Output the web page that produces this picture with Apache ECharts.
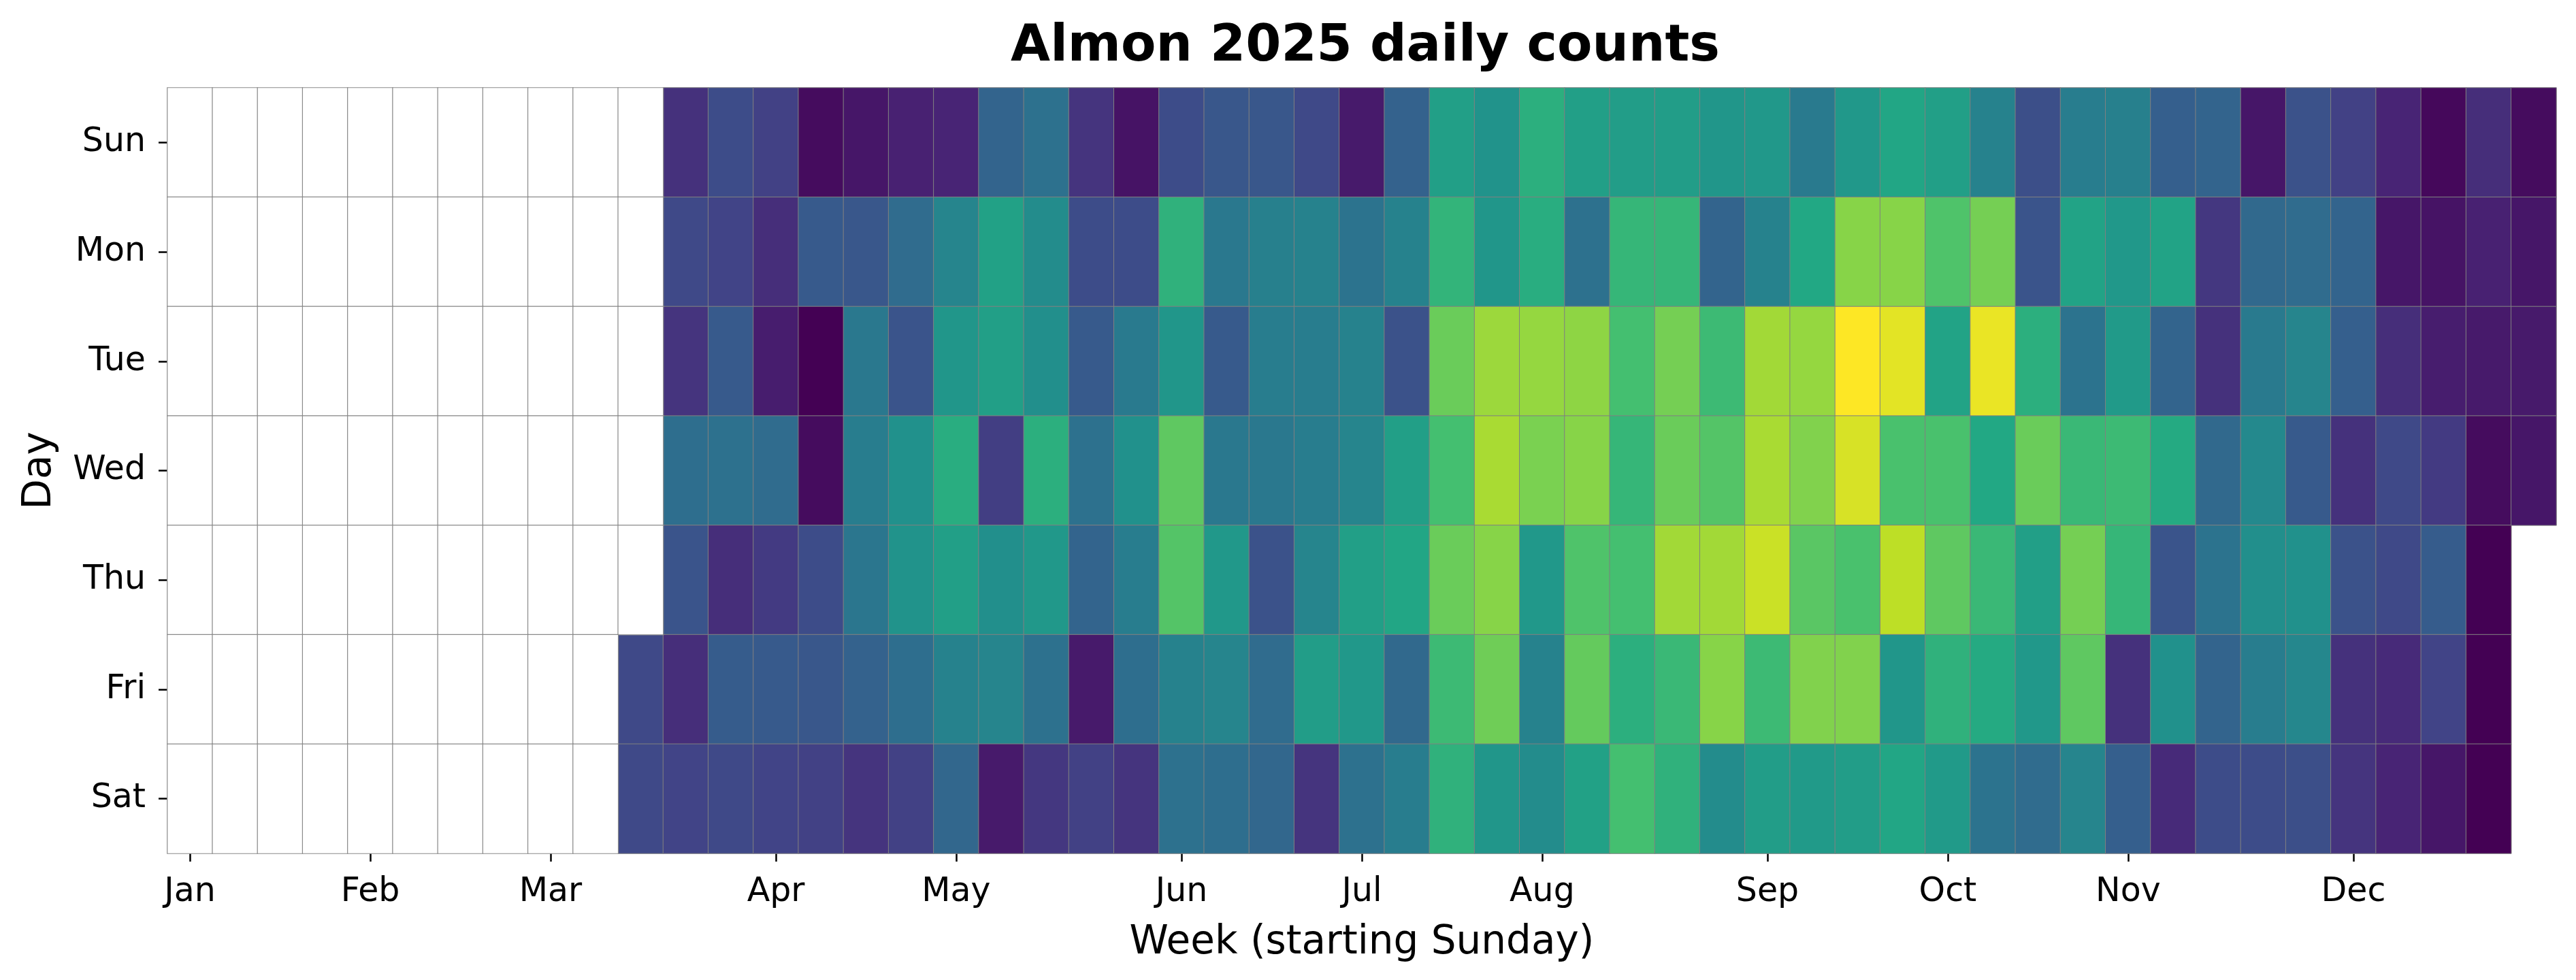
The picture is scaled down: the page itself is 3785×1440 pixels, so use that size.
<!DOCTYPE html>
<html lang="en">
<head>
<meta charset="UTF-8">
<title>Almon 2025 daily counts</title>
<script src="https://cdn.jsdelivr.net/npm/echarts@6/dist/echarts.min.js"></script>
<style>
  html, body { margin: 0; padding: 0; background: #fff; }
  #chart { width: 3785px; height: 1440px; }
</style>
</head>
<body>
<div id="chart"></div>
<script>
// rows of the heatmap, top to bottom
var days = ['Sun', 'Mon', 'Tue', 'Wed', 'Thu', 'Fri', 'Sat'];

// month labels and the week column holding the 1st of each month
var monthLabels = ['Jan', 'Feb', 'Mar', 'Apr', 'May', 'Jun', 'Jul', 'Aug', 'Sep', 'Oct', 'Nov', 'Dec'];
var monthWeeks = [0, 4, 8, 13, 17, 22, 26, 30, 35, 39, 43, 48];

// daily counts per weekday, one entry per week column (null = no data yet)
var sunCounts = [null, null, null, null, null, null, null, null, null, null, null,
    14, 23, 19, 3, 6, 9, 10, 32, 37, 15, 5, 23, 27, 27, 22, 7, 31, 56, 51, 63, 56, 55, 55, 52, 53,
    41, 53, 59, 56, 44, 24, 42, 43, 30, 32, 6, 25, 19, 10, 2, 13, 3];
var monCounts = [null, null, null, null, null, null, null, null, null, null, null,
    22, 20, 13, 28, 27, 35, 45, 57, 48, 23, 23, 64, 40, 43, 44, 38, 44, 65, 52, 62, 37, 66, 66, 32, 44,
    60, 82, 82, 72, 79, 26, 58, 53, 58, 16, 34, 35, 32, 6, 5, 9, 6];
var tueCounts = [null, null, null, null, null, null, null, null, null, null, null,
    15, 28, 8, 0, 40, 26, 52, 56, 49, 28, 41, 52, 28, 42, 42, 44, 25, 77, 85, 84, 83, 70, 79, 68, 86,
    84, 100, 96, 58, 97, 63, 38, 54, 32, 14, 41, 45, 30, 13, 8, 7, 7];
var wedCounts = [null, null, null, null, null, null, null, null, null, null, null,
    36, 37, 35, 3, 42, 50, 62, 18, 63, 37, 50, 75, 40, 40, 42, 45, 56, 70, 87, 80, 82, 66, 77, 73, 87,
    81, 94, 71, 71, 60, 77, 67, 68, 61, 34, 47, 28, 14, 22, 17, 3, 6];
var thuCounts = [null, null, null, null, null, null, null, null, null, null, null,
    26, 13, 17, 23, 39, 51, 56, 49, 53, 32, 42, 73, 53, 25, 45, 56, 59, 77, 82, 53, 72, 70, 86, 86, 92,
    74, 71, 90, 75, 67, 56, 79, 66, 26, 38, 49, 50, 25, 22, 29, 0];
var friCounts = [null, null, null, null, null, null, null, null, null, null,
    22, 13, 29, 28, 27, 31, 36, 44, 45, 37, 7, 36, 44, 45, 35, 55, 53, 34, 68, 78, 44, 76, 63, 67, 82,
    68, 81, 81, 52, 64, 61, 53, 75, 14, 50, 32, 42, 46, 14, 12, 20, 0];
var satCounts = [null, null, null, null, null, null, null, null, null, null,
    22, 20, 22, 20, 19, 15, 19, 33, 7, 16, 19, 15, 37, 36, 33, 15, 37, 42, 64, 52, 48, 57, 70, 64, 48,
    55, 54, 55, 59, 54, 38, 35, 45, 30, 12, 23, 23, 24, 15, 10, 6, 0];

var viridis = ['#440154', '#482475', '#414487', '#355f8d', '#2a788e', '#21918c',
    '#22a884', '#44bf70', '#7ad151', '#bddf26', '#fde725'];

var weeks = [];
for (var i = 0; i < 53; i++) weeks.push(String(i));

var rows = [sunCounts, monCounts, tueCounts, wedCounts, thuCounts, friCounts, satCounts];
var cells = [];
var blanks = [];
rows.forEach(function (row, d) {
    row.forEach(function (v, w) {
        if (v === null) blanks.push([w, d, 0]);
        else cells.push([w, d, v]);
    });
});

function isMonthWeek(index) {
    return monthWeeks.indexOf(index) >= 0;
}

var myChart = echarts.init(document.getElementById('chart'));
var font = 'DejaVu Sans';

var option = {
    backgroundColor: '#fff',
    animation: false,
    title: {
        text: 'Almon 2025 daily counts',
        left: 2001,
        textAlign: 'center',
        top: 27,
        textStyle: { fontFamily: font, fontSize: 75, fontWeight: 'bold', color: '#000' }
    },
    grid: { left: 246, right: 29, top: 129, bottom: 186 },
    xAxis: {
        type: 'category',
        data: weeks,
        name: 'Week (starting Sunday)',
        nameLocation: 'middle',
        nameGap: 103,
        nameTextStyle: { fontFamily: font, fontSize: 58, color: '#000' },
        axisLine: { show: false },
        splitLine: { show: false },
        axisTick: {
            show: true,
            alignWithLabel: true,
            interval: isMonthWeek,
            length: 12,
            lineStyle: { color: '#000', width: 2.5 }
        },
        axisLabel: {
            interval: isMonthWeek,
            formatter: function (v, index) {
                return monthLabels[monthWeeks.indexOf(index)];
            },
            margin: 33,
            fontFamily: font,
            fontSize: 49,
            color: '#000'
        }
    },
    yAxis: {
        type: 'category',
        data: days,
        inverse: true,
        name: 'Day',
        nameLocation: 'middle',
        nameGap: 158,
        nameTextStyle: { fontFamily: font, fontSize: 58, color: '#000' },
        axisLine: { show: false },
        splitLine: { show: false },
        axisTick: {
            show: true,
            alignWithLabel: true,
            length: 13,
            lineStyle: { color: '#000', width: 2.5 }
        },
        axisLabel: {
            margin: 32,
            fontFamily: font,
            fontSize: 49,
            color: '#000'
        }
    },
    visualMap: {
        show: false,
        seriesIndex: 0,
        min: 0,
        max: 100,
        inRange: { color: viridis }
    },
    series: [
        {
            type: 'heatmap',
            data: cells,
            itemStyle: { borderColor: '#808080', borderWidth: 1 },
            emphasis: { disabled: true }
        },
        {
            type: 'heatmap',
            data: blanks,
            itemStyle: { color: '#fff', borderColor: '#8a8a8a', borderWidth: 1.2 },
            emphasis: { disabled: true }
        }
    ]
};

myChart.setOption(option);
</script>
</body>
</html>
